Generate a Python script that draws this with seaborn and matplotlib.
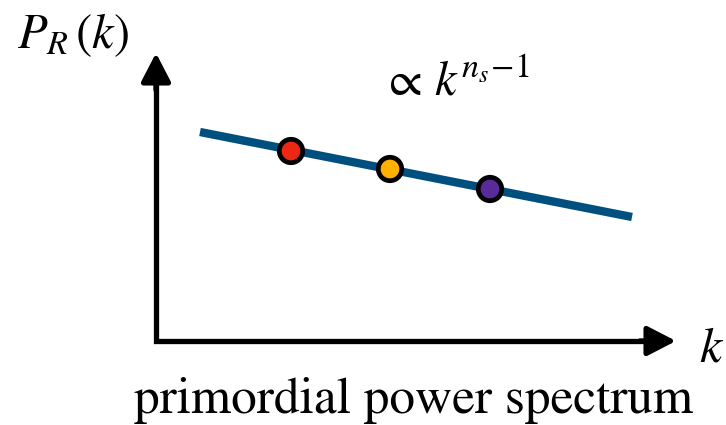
import matplotlib
matplotlib.use("Agg")
import matplotlib.pyplot as plt
import seaborn as sns
import pandas as pd

sns.set_theme(style="white")
plt.rcParams['font.family'] = ['STIXGeneral', 'DejaVu Serif']
plt.rcParams['mathtext.fontset'] = 'stix'
plt.rcParams['text.color'] = 'black'

# Diagram data (in figure pixel units, y grows downward)
spectrum_k = [200, 632]
spectrum_P = [132, 217]
point_k = [291, 390, 490]
point_P = [151, 169, 189]
point_colors = ["#ec2814", "#ffb000", "#582a9a"]
title_text = "primordial power spectrum"
ylabel_text = r"$P_R\,(k)$"
xlabel_text = r"$k$"
law_text = r"$\propto\, k^{n_s\!-\!1}$"

fig = plt.figure(figsize=(7.26, 4.25), dpi=100)
ax = fig.add_axes([0, 0, 1, 1])

# axes: L-shaped line plus arrowheads
ax.plot([156, 156, 660], [70, 341, 341], color="black", lw=3.8,
        solid_joinstyle="miter", solid_capstyle="butt")
arrow = dict(arrowstyle="-|>,head_length=0.87,head_width=0.45", lw=3.8,
             color="black", mutation_scale=20, shrinkA=0, shrinkB=0)
ax.annotate("", xy=(676, 341), xytext=(640, 341), arrowprops=arrow)
ax.annotate("", xy=(156, 53), xytext=(156, 90), arrowprops=arrow)

df_line = pd.DataFrame({"k": spectrum_k, "P": spectrum_P})
sns.lineplot(data=df_line, x="k", y="P", ax=ax, color="#00507f", lw=6,
             solid_capstyle="butt", legend=False)

df_pts = pd.DataFrame({"k": point_k, "P": point_P, "c": point_colors})
sns.scatterplot(data=df_pts, x="k", y="P", hue="c", palette=point_colors,
                s=285, edgecolor="black", linewidth=3.4, ax=ax, legend=False,
                zorder=5)
ax.set_xlim(0, 726)
ax.set_ylim(425, 0)
ax.axis("off")

ax.text(17, 48, ylabel_text, fontsize=35, ha="left", va="baseline")
ax.text(699, 362, xlabel_text, fontsize=36, ha="left", va="baseline")
ax.text(455, 95, law_text, fontsize=35, ha="center", va="baseline")
ax.text(414, 413, title_text, fontsize=37, ha="center", va="baseline")

fig.savefig("out.png", dpi=100)
